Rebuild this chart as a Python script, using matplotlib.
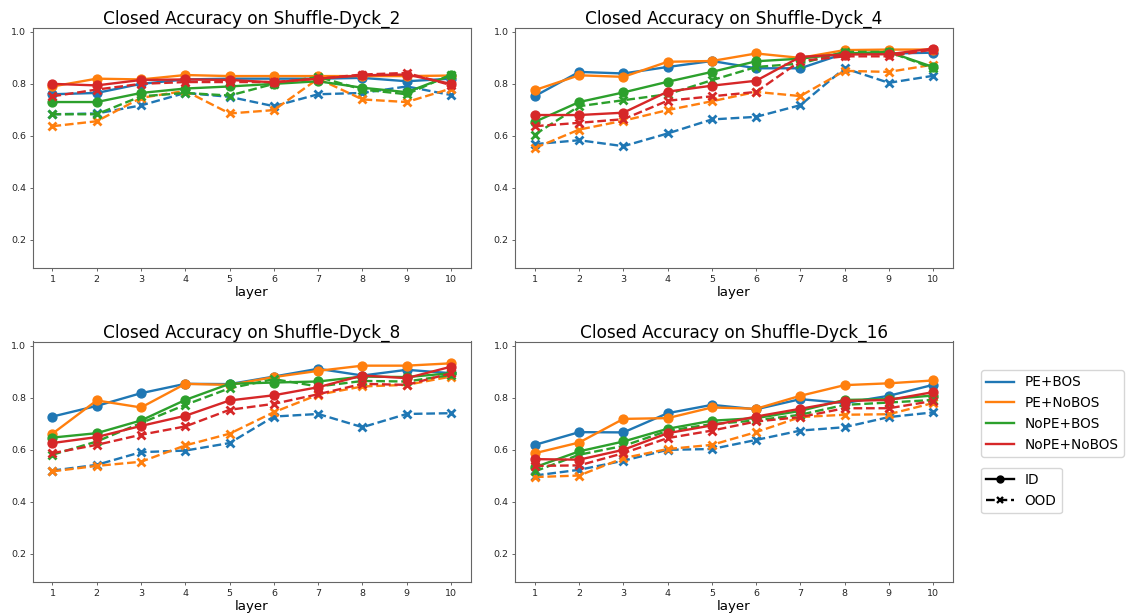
import matplotlib
matplotlib.use("Agg")
import matplotlib.pyplot as plt
from matplotlib.lines import Line2D

layers = list(range(1, 11))
configs = ["PE+BOS", "PE+NoBOS", "NoPE+BOS", "NoPE+NoBOS"]
colors = ["#1f77b4", "#ff7f0e", "#2ca02c", "#d62728"]
titles = ["Closed Accuracy on Shuffle-Dyck_2", "Closed Accuracy on Shuffle-Dyck_4",
          "Closed Accuracy on Shuffle-Dyck_8", "Closed Accuracy on Shuffle-Dyck_16"]

# Shuffle-Dyck_2
d2_id = {
    "PE+BOS":     [0.760, 0.765, 0.800, 0.817, 0.820, 0.820, 0.820, 0.823, 0.810, 0.820],
    "PE+NoBOS":   [0.790, 0.820, 0.817, 0.834, 0.830, 0.830, 0.830, 0.830, 0.830, 0.832],
    "NoPE+BOS":   [0.730, 0.730, 0.765, 0.782, 0.790, 0.800, 0.810, 0.785, 0.768, 0.833],
    "NoPE+NoBOS": [0.800, 0.794, 0.815, 0.817, 0.815, 0.806, 0.820, 0.833, 0.836, 0.800],
}
d2_ood = {
    "PE+BOS":     [0.683, 0.686, 0.717, 0.765, 0.750, 0.714, 0.760, 0.765, 0.790, 0.757],
    "PE+NoBOS":   [0.637, 0.656, 0.746, 0.773, 0.686, 0.699, 0.820, 0.740, 0.730, 0.782],
    "NoPE+BOS":   [0.683, 0.683, 0.752, 0.765, 0.755, 0.800, 0.827, 0.778, 0.760, 0.836],
    "NoPE+NoBOS": [0.752, 0.778, 0.800, 0.807, 0.807, 0.807, 0.820, 0.836, 0.842, 0.795],
}
# Shuffle-Dyck_4
d4_id = {
    "PE+BOS":     [0.753, 0.846, 0.840, 0.865, 0.888, 0.860, 0.860, 0.917, 0.917, 0.920],
    "PE+NoBOS":   [0.776, 0.833, 0.827, 0.885, 0.888, 0.917, 0.900, 0.930, 0.932, 0.932],
    "NoPE+BOS":   [0.654, 0.730, 0.767, 0.808, 0.846, 0.887, 0.897, 0.917, 0.923, 0.865],
    "NoPE+NoBOS": [0.680, 0.680, 0.689, 0.770, 0.793, 0.812, 0.904, 0.913, 0.914, 0.936],
}
d4_ood = {
    "PE+BOS":     [0.568, 0.583, 0.560, 0.609, 0.663, 0.673, 0.718, 0.860, 0.804, 0.831],
    "PE+NoBOS":   [0.553, 0.624, 0.658, 0.699, 0.733, 0.769, 0.753, 0.850, 0.846, 0.874],
    "NoPE+BOS":   [0.605, 0.714, 0.737, 0.760, 0.814, 0.865, 0.878, 0.923, 0.923, 0.860],
    "NoPE+NoBOS": [0.637, 0.650, 0.664, 0.735, 0.752, 0.769, 0.888, 0.906, 0.906, 0.932],
}
# Shuffle-Dyck_8
d8_id = {
    "PE+BOS":     [0.728, 0.769, 0.818, 0.854, 0.853, 0.882, 0.912, 0.886, 0.908, 0.895],
    "PE+NoBOS":   [0.662, 0.790, 0.763, 0.854, 0.850, 0.880, 0.904, 0.924, 0.924, 0.933],
    "NoPE+BOS":   [0.647, 0.664, 0.713, 0.792, 0.854, 0.859, 0.863, 0.882, 0.880, 0.895],
    "NoPE+NoBOS": [0.626, 0.649, 0.692, 0.731, 0.790, 0.810, 0.841, 0.886, 0.876, 0.920],
}
d8_ood = {
    "PE+BOS":     [0.520, 0.542, 0.591, 0.597, 0.626, 0.728, 0.738, 0.687, 0.738, 0.741],
    "PE+NoBOS":   [0.517, 0.538, 0.554, 0.617, 0.662, 0.745, 0.812, 0.844, 0.850, 0.882],
    "NoPE+BOS":   [0.581, 0.632, 0.703, 0.773, 0.837, 0.872, 0.844, 0.865, 0.863, 0.888],
    "NoPE+NoBOS": [0.587, 0.619, 0.658, 0.690, 0.754, 0.777, 0.814, 0.854, 0.850, 0.895],
}
# Shuffle-Dyck_16
d16_id = {
    "PE+BOS":     [0.619, 0.668, 0.667, 0.741, 0.773, 0.756, 0.795, 0.780, 0.808, 0.850],
    "PE+NoBOS":   [0.587, 0.628, 0.719, 0.722, 0.763, 0.758, 0.808, 0.849, 0.856, 0.867],
    "NoPE+BOS":   [0.533, 0.594, 0.632, 0.681, 0.712, 0.722, 0.750, 0.792, 0.795, 0.809],
    "NoPE+NoBOS": [0.564, 0.562, 0.600, 0.664, 0.694, 0.728, 0.758, 0.788, 0.792, 0.822],
}
d16_ood = {
    "PE+BOS":     [0.501, 0.523, 0.558, 0.600, 0.603, 0.638, 0.674, 0.687, 0.726, 0.744],
    "PE+NoBOS":   [0.495, 0.501, 0.568, 0.603, 0.619, 0.668, 0.726, 0.735, 0.737, 0.780],
    "NoPE+BOS":   [0.517, 0.581, 0.615, 0.673, 0.699, 0.713, 0.735, 0.773, 0.782, 0.792],
    "NoPE+NoBOS": [0.538, 0.540, 0.587, 0.645, 0.674, 0.709, 0.726, 0.760, 0.760, 0.788],
}

panels = [(d2_id, d2_ood), (d4_id, d4_ood), (d8_id, d8_ood), (d16_id, d16_ood)]

W, H = 1128, 614
fig = plt.figure(figsize=(W / 100, H / 100), dpi=100)

boxes = [(32.5, 27.5, 471, 268), (515, 27.5, 953, 268),
         (32.5, 341.5, 471, 582), (515, 341.5, 953, 582)]

TICK = 6.8
axes = []
for (x0, y0, x1, y1), title, (idd, ood) in zip(boxes, titles, panels):
    ax = fig.add_axes([x0 / W, 1 - y1 / H, (x1 - x0) / W, (y1 - y0) / H])
    for cfg, col in zip(configs, colors):
        ax.plot(layers, idd[cfg], color=col, linestyle="-", marker="o",
                lw=1.7, markersize=6.4, zorder=3)
        ax.plot(layers, ood[cfg], color=col, linestyle="--", marker="x",
                lw=1.7, markersize=6.3, markeredgewidth=2.0, zorder=3)
    ax.set_ylim(0.091, 1.017)
    ax.set_xticks(layers)
    ax.set_yticks([0.2, 0.4, 0.6, 0.8, 1.0])
    ax.tick_params(labelsize=TICK, length=2.5, width=0.6, colors="0.3",
                   labelcolor="0.15", pad=2.2)
    for s in ax.spines.values():
        s.set_color("0.4")
        s.set_linewidth(0.8)
    ax.set_title(title, fontsize=12.2, pad=3)
    ax.set_xlabel("layer", fontsize=9.6, labelpad=1.5)
    axes.append(ax)

ax = axes[3]
h1 = [Line2D([0], [0], color=c, lw=1.7) for c in colors]
leg1 = ax.legend(h1, configs, loc="upper left", bbox_to_anchor=(1.064, 0.882),
                 fontsize=9.8, handlelength=2.0, borderaxespad=0, frameon=True)
ax.add_artist(leg1)
h2 = [Line2D([0], [0], color="black", lw=1.7, marker="o", markersize=5),
      Line2D([0], [0], color="black", lw=1.7, ls="--", marker="x", markersize=4.5,
             markeredgewidth=1.7)]
ax.legend(h2, ["ID", "OOD"], loc="upper left", bbox_to_anchor=(1.064, 0.475),
          fontsize=9.8, handlelength=2.0, borderaxespad=0, frameon=True)

fig.savefig("out.png", dpi=100)
